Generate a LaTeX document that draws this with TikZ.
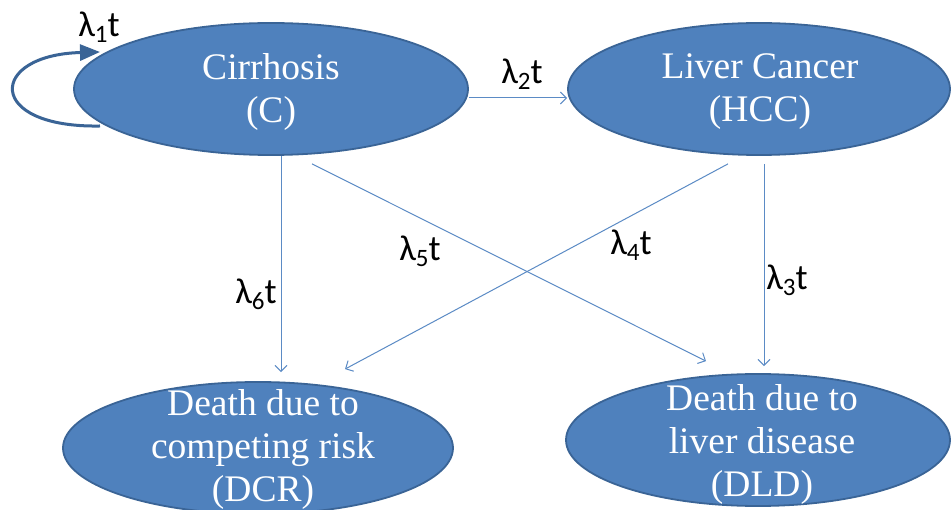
\documentclass[tikz,border=0pt]{standalone}
\usepackage{fontspec}
\setmainfont{Liberation Serif}
\newfontfamily\labfont{Carlito}
\usetikzlibrary{shapes.geometric,arrows.meta}
\definecolor{fillblue}{HTML}{4F81BD}
\definecolor{edgeblue}{HTML}{3A6496}
\definecolor{lineblue}{HTML}{5B8BC5}
\newcommand{\lamt}[1]{λ\raisebox{-0.35ex}{\fontsize{25}{25}\selectfont #1}t}
\begin{document}
\begin{tikzpicture}[x=1pt,y=-1pt,
  state/.style={ellipse, fill=fillblue, draw=edgeblue, line width=1.8pt, inner sep=0pt},
  statetext/.style={text=white, font=\fontsize{37.5}{43}\selectfont, align=center, inner sep=0pt},
  trans/.style={draw=lineblue, line width=1pt, -{Straight Barb[length=6pt,width=12pt]}},
  selfloop/.style={draw=edgeblue, line width=3pt, -{Triangle[length=20pt,width=16pt]}},
  lab/.style={font=\labfont\fontsize{36}{36}\selectfont, text=black, inner sep=0pt}]
\useasboundingbox (0,0) rectangle (951,510);
\fill[white] (0,0) rectangle (951,510);
% states
\node[state, minimum width=394pt, minimum height=132pt] (C) at (271,89) {};
\node[state, minimum width=382pt, minimum height=132pt] (H) at (759,89) {};
\node[state, minimum width=390pt, minimum height=132pt] (DCR) at (258,448) {};
\node[state, minimum width=384pt, minimum height=132pt] (DLD) at (758,440) {};
\node[statetext] (Ct) at (271,92) {Cirrhosis\\(C)};
\node[statetext] (Ht) at (760,92) {Liver Cancer\\(HCC)};
\node[statetext] (DCRt) at (263,449) {Death due to\\competing risk\\(DCR)};
\node[statetext] (DLDt) at (762,444) {Death due to\\liver disease\\(DLD)};
% transitions
\draw[selfloop] ([xshift=-171pt,yshift=-37pt]C.center) .. controls +(-115,2) and +(-112,3) .. ([xshift=-171pt,yshift=37pt]C.center);
\draw[trans] ([yshift=-9pt]C.east) -- ([yshift=-9pt]H.west);
\draw[trans] ([xshift=10pt]C.south) -- ([xshift=23pt,yshift=9pt]DCR.north);
\draw[trans] ([xshift=5pt,yshift=-8pt]H.south) -- ([xshift=6pt,yshift=7pt]DLD.north);
\draw[trans] ([xshift=41pt,yshift=-8pt]C.south) -- ([xshift=-52pt,yshift=12pt]DLD.north);
\draw[trans] ([xshift=-31pt,yshift=-8pt]H.south) -- ([xshift=87pt,yshift=12pt]DCR.north);
% labels
\node[lab] (l1) at (99,27) {\lamt{1}};
\node[lab] (l2) at (522,74) {\lamt{2}};
\node[lab] (l5) at (420,251) {\lamt{5}};
\node[lab] (l4) at (631,245) {\lamt{4}};
\node[lab] (l6) at (256,294) {\lamt{6}};
\node[lab] (l3) at (787,280) {\lamt{3}};
\end{tikzpicture}
\end{document}
